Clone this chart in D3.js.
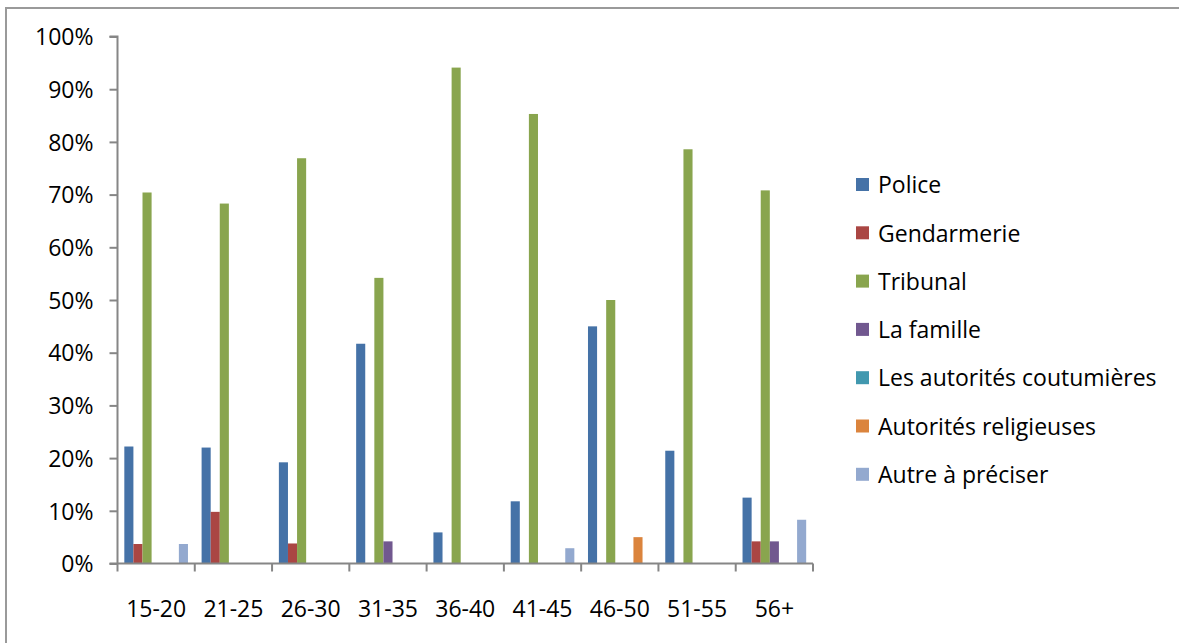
<!DOCTYPE html>
<html>
<head>
<meta charset="utf-8">
<script src="https://cdn.jsdelivr.net/npm/d3@7"></script>
<style>
  html, body { margin: 0; padding: 0; background: #fff; }
  svg { display: block; }
  text { font-family: "Open Sans", Lato, sans-serif; fill: #000; }
</style>
</head>
<body>
<svg id="chart" width="1179" height="643"></svg>
<script>
const categories = ["15-20", "21-25", "26-30", "31-35", "36-40", "41-45", "46-50", "51-55", "56+"];
const seriesNames = ["Police", "Gendarmerie", "Tribunal", "La famille", "Les autorités coutumières", "Autorités religieuses", "Autre à préciser"];
const seriesColors = ["#4572A7", "#AA4643", "#89A54E", "#71588F", "#4198AF", "#DB843D", "#93A9CF"];
// values in % per series, one per category
const police      = [22.2, 22.0, 19.2, 41.7, 5.9, 11.8, 45.0, 21.4, 12.5];
const gendarmerie = [3.7, 9.8, 3.8, 0, 0, 0, 0, 0, 4.2];
const tribunal    = [70.4, 68.3, 76.9, 54.2, 94.1, 85.3, 50.0, 78.6, 70.8];
const famille     = [0, 0, 0, 4.2, 0, 0, 0, 0, 4.2];
const coutumieres = [0, 0, 0, 0, 0, 0, 0, 0, 0];
const religieuses = [0, 0, 0, 0, 0, 0, 5.0, 0, 0];
const autre       = [3.7, 0, 0, 0, 0, 2.9, 0, 0, 8.3];
const yTicks = [0, 10, 20, 30, 40, 50, 60, 70, 80, 90, 100];

const seriesValues = [police, gendarmerie, tribunal, famille, coutumieres, religieuses, autre];

const svg = d3.select("#chart");
const axisColor = "#868686";
const fontSize = "23px";

// outer frame (only left and top visible in reference)
svg.append("path")
  .attr("d", "M6,650 L6,8 L1190,8")
  .attr("fill", "none")
  .attr("stroke", "#9a9a9a")
  .attr("stroke-width", 2);

const plot = { left: 117.5, right: 813, top: 36.5, bottom: 563.5 };

const x0 = d3.scaleBand().domain(categories).range([plot.left, plot.right]).padding(0);
const x1 = d3.scaleBand().domain(seriesNames).range([0, x0.bandwidth()]).paddingInner(0).paddingOuter(0.75);
const y = d3.scaleLinear().domain([0, 100]).range([plot.bottom, plot.top]);

// bars
const g = svg.append("g");
categories.forEach((cat, ci) => {
  seriesNames.forEach((s, si) => {
    const v = seriesValues[si][ci];
    if (!v) return;
    g.append("rect")
      .attr("x", x0(cat) + x1(s))
      .attr("y", y(v))
      .attr("width", x1.bandwidth())
      .attr("height", y(0) - y(v))
      .attr("fill", seriesColors[si]);
  });
});

// y axis
const yAxis = d3.axisLeft(y).tickValues(yTicks).tickSize(8).tickPadding(16)
  .tickFormat(d => d + "%");
const yg = svg.append("g").attr("transform", `translate(${plot.left},0)`).call(yAxis);
yg.select(".domain").attr("stroke", axisColor).attr("stroke-width", 2).attr("d", `M-8,${plot.top}H0V${plot.bottom}`);
yg.selectAll(".tick line").attr("stroke", axisColor).attr("stroke-width", 2);
yg.selectAll(".tick text").style("font-size", fontSize).attr("dy", "0.36em");

// x axis
const xg = svg.append("g").attr("transform", `translate(0,${plot.bottom})`);
xg.append("line").attr("x1", plot.left - 8).attr("x2", plot.right).attr("y1", 0).attr("y2", 0)
  .attr("stroke", axisColor).attr("stroke-width", 2);
const bounds = categories.map(c => x0(c)).concat([plot.right]);
xg.selectAll("line.tk").data(bounds).join("line").attr("class", "tk")
  .attr("x1", d => d).attr("x2", d => d).attr("y1", 0).attr("y2", 8)
  .attr("stroke", axisColor).attr("stroke-width", 2);
xg.selectAll("text").data(categories).join("text")
  .attr("x", d => x0(d) + x0.bandwidth() / 2)
  .attr("y", 53)
  .attr("text-anchor", "middle")
  .style("font-size", fontSize)
  .text(d => d);

// legend
const lg = svg.append("g").attr("transform", "translate(856,185)");
seriesNames.forEach((s, i) => {
  const row = lg.append("g").attr("transform", `translate(0,${i * 48.3})`);
  row.append("rect").attr("x", 0).attr("y", -7).attr("width", 13).attr("height", 13).attr("fill", seriesColors[i]);
  row.append("text").attr("x", 22).attr("y", 0).attr("dy", "0.36em").style("font-size", fontSize).text(s);
});
</script>
</body>
</html>
